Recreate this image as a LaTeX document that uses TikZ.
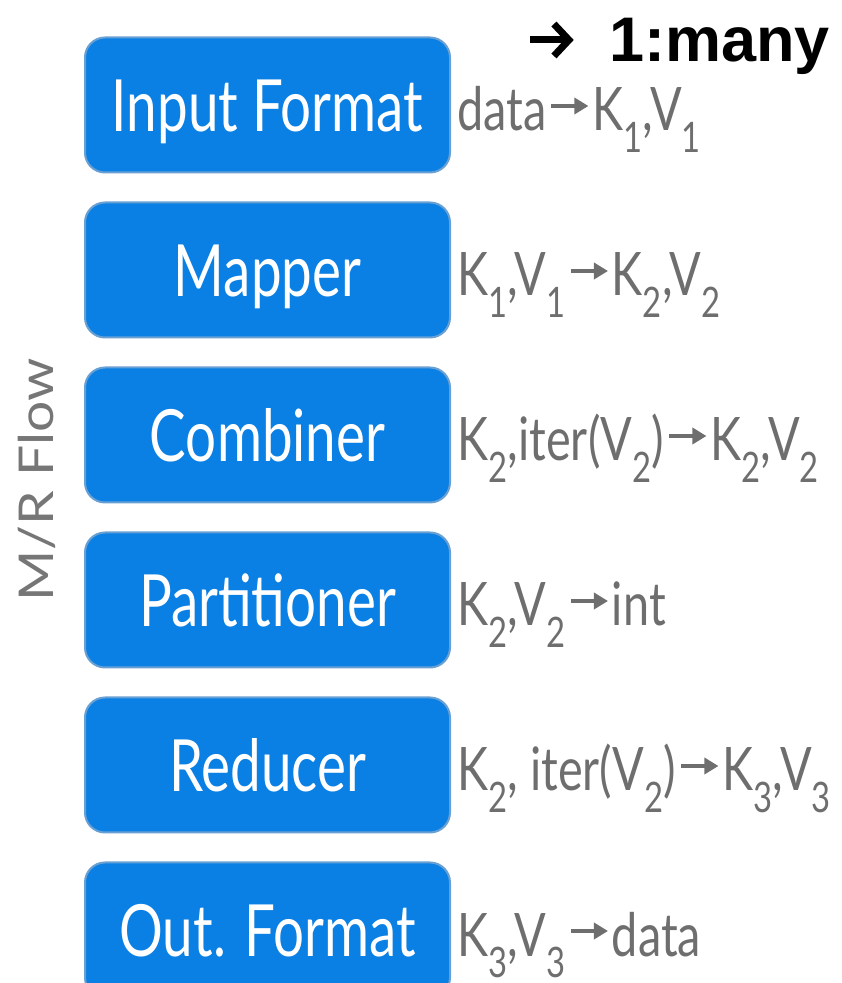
\documentclass[tikz,border=0pt]{standalone}
\usepackage{fontspec}
\setmainfont{Lato}[FakeStretch=0.76]
\newfontfamily\sigfont{Lato}[FakeStretch=0.78]
\newfontfamily\flowfont{Lato}[FakeStretch=1.15]
\newfontfamily\headfont{Liberation Sans}
\usetikzlibrary{positioning,arrows.meta}

\definecolor{stageblue}{RGB}{10,128,228}
\definecolor{stageedge}{RGB}{105,160,212}
\definecolor{siggray}{RGB}{110,110,110}
\definecolor{flowgray}{RGB}{118,118,118}

\newcommand{\sigarrow}{\hspace{3pt}\tikz[baseline=0pt]\draw[siggray,line width=4pt,-{Triangle[length=14pt,width=16pt]}] (0pt,25pt) -- (37pt,25pt);\hspace{2pt}}

\begin{document}
\begin{tikzpicture}[x=1pt,y=1pt,
  stage/.style={draw=stageedge,line width=2pt,fill=stageblue,rounded corners=20pt,
    minimum width=365pt,minimum height=135pt,inner sep=0pt,text=white,
    font=\fontsize{72}{72}\selectfont,text height=53pt,text depth=0pt},
  sig/.style={anchor=base west,inner sep=0pt,text=siggray,font=\sigfont\fontsize{60}{60}\selectfont},
  node distance=28pt]
  \useasboundingbox (0,0) rectangle (842,983);

  \node[stage] (input) at (267.5,878) {Input Format};
  \node[stage,below=of input] (mapper) {Mapper};
  \node[stage,below=of mapper] (combiner) {Combiner};
  \node[stage,below=of combiner] (partitioner) {Partitioner};
  \node[stage,below=of partitioner] (reducer) {Reducer};
  \node[stage,below=of reducer] (output) {Out. Format};

  \node[sig] (inputsig) at ([xshift=6pt,yshift=-26pt]input.east) {data\sigarrow K\textsubscript{1},V\textsubscript{1}};
  \node[sig] (mappersig) at ([xshift=6pt,yshift=-26pt]mapper.east) {K\textsubscript{1},V\textsubscript{1}\sigarrow K\textsubscript{2},V\textsubscript{2}};
  \node[sig] (combinersig) at ([xshift=6pt,yshift=-26pt]combiner.east) {K\textsubscript{2},iter(V\textsubscript{2})\sigarrow K\textsubscript{2},V\textsubscript{2}};
  \node[sig] (partitionersig) at ([xshift=6pt,yshift=-26pt]partitioner.east) {K\textsubscript{2},V\textsubscript{2}\sigarrow int};
  \node[sig] (reducersig) at ([xshift=6pt,yshift=-26pt]reducer.east) {K\textsubscript{2}, iter(V\textsubscript{2})\sigarrow K\textsubscript{3},V\textsubscript{3}};
  \node[sig] (outputsig) at ([xshift=6pt,yshift=-26pt]output.east) {K\textsubscript{3},V\textsubscript{3}\sigarrow data};

  \node[rotate=90,text=flowgray,font=\flowfont\fontsize{48}{48}\selectfont] (flow) at (37,503) {M/R Flow};
  \node[anchor=base east,inner sep=0pt,font=\headfont\bfseries\fontsize{63}{63}\selectfont] (ratio) at (830,921)
    {\tikz[baseline=0pt]\draw[line width=7pt,-{Straight Barb[length=15pt,width=32pt]}] (0pt,22pt) -- (44pt,22pt);\hspace{32pt}1:many};
\end{tikzpicture}
\end{document}
